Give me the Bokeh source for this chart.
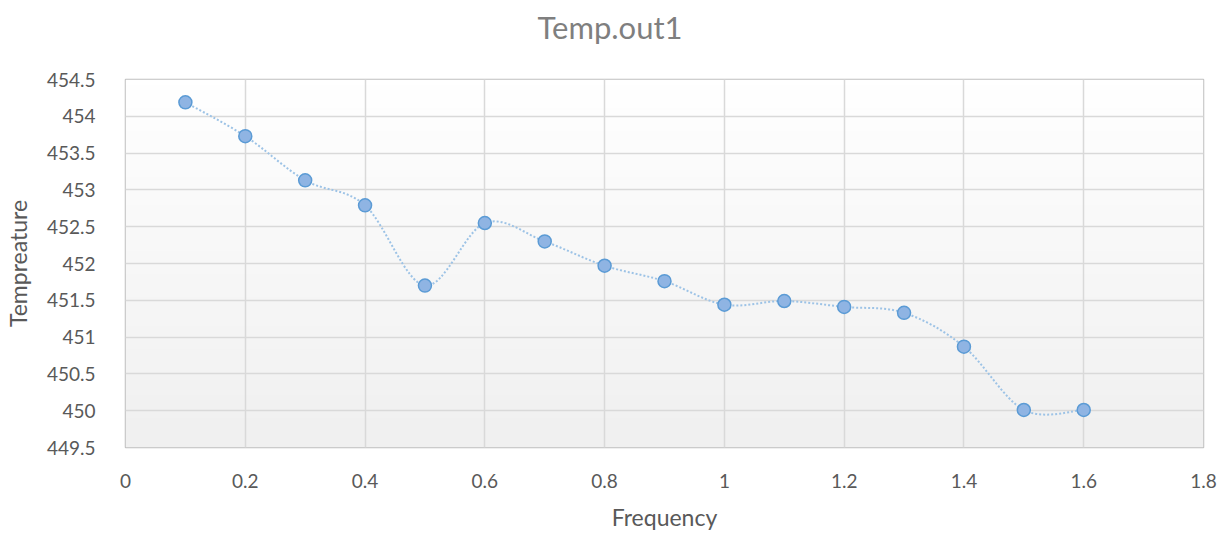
import numpy as np
from bokeh.plotting import figure
from bokeh.models import Range1d, FixedTicker, Title
from bokeh.embed import file_html
from bokeh.resources import INLINE

frequency = [0.1, 0.2, 0.3, 0.4, 0.5, 0.6, 0.7, 0.8, 0.9, 1.0, 1.1, 1.2, 1.3, 1.4, 1.5, 1.6]
temperature = [454.19, 453.73, 453.13, 452.79, 451.70, 452.55, 452.30, 451.97,
               451.76, 451.44, 451.49, 451.41, 451.33, 450.87, 450.01, 450.01]
x_ticks = [0, 0.2, 0.4, 0.6, 0.8, 1.0, 1.2, 1.4, 1.6, 1.8]
y_ticks = [449.5, 450, 450.5, 451, 451.5, 452, 452.5, 453, 453.5, 454, 454.5]

FONT = "Lato"
TXT = "#595959"

p = figure(width=1231, height=533, output_backend="svg", toolbar_location=None,
           x_range=Range1d(0, 1.8), y_range=Range1d(449.5, 454.5),
           min_border_left=125, min_border_right=28, min_border_top=79, min_border_bottom=82)
p.background_fill_color = "white"
p.border_fill_color = "white"
p.outline_line_color = "#BFBFBF"
p.outline_line_width = 1.5

# spacer (closest to frame) then the visible title above it
p.add_layout(Title(text=" ", text_font=FONT, text_font_size="26px", standoff=0), "above")
p.add_layout(Title(text="Temp.out1", text_font=FONT, text_font_size="31px",
                   text_font_style="normal", text_color="#7F7F7F",
                   align="left", offset=412, standoff=0), "above")

# vertical gradient background of plot area
h = 64
grad = np.zeros((h, 1), dtype=np.uint32)
view = grad.view(dtype=np.uint8).reshape((h, 1, 4))
for i in range(h):
    c = int(240 + 15 * i / (h - 1))
    view[i, 0, :] = [c, c, c, 255]
p.image_rgba(image=[grad], x=0, y=449.5, dw=1.8, dh=5.0, level="image")

p.xgrid.ticker = FixedTicker(ticks=x_ticks)
p.ygrid.ticker = FixedTicker(ticks=y_ticks)
for g in (p.xgrid, p.ygrid):
    g.grid_line_color = "#D9D9D9"
    g.grid_line_width = 1.5
    g.level = "underlay"

p.xaxis.ticker = FixedTicker(ticks=x_ticks)
p.yaxis.ticker = FixedTicker(ticks=y_ticks)
for ax in (p.xaxis[0], p.yaxis[0]):
    ax.axis_line_color = None
    ax.major_tick_line_color = None
    ax.minor_tick_line_color = None
    ax.major_label_text_font = FONT
    ax.major_label_text_font_size = "19px"
    ax.major_label_text_color = TXT
    ax.axis_label_text_font = FONT
    ax.axis_label_text_font_size = "23px"
    ax.axis_label_text_color = TXT
    ax.axis_label_text_font_style = "normal"
p.xaxis.axis_label = "Frequency"
p.yaxis.axis_label = "Tempreature"
p.xaxis.major_label_standoff = 20
p.yaxis.major_label_standoff = 24
p.xaxis.axis_label_standoff = 12
p.yaxis.axis_label_standoff = 12
p.xaxis.major_label_overrides = {0: "0", 1.0: "1"}

# smoothed connecting line (Catmull-Rom style Bezier through data points)
xs = np.array(frequency)
ys = np.array(temperature)
n = len(xs)
x0, y0, x1, y1, cx0, cy0, cx1, cy1 = [], [], [], [], [], [], [], []
for i in range(n - 1):
    pm = i - 1 if i > 0 else i
    pp = i + 2 if i + 2 < n else i + 1
    x0.append(xs[i]); y0.append(ys[i]); x1.append(xs[i + 1]); y1.append(ys[i + 1])
    cx0.append(xs[i] + (xs[i + 1] - xs[pm]) / 6); cy0.append(ys[i] + (ys[i + 1] - ys[pm]) / 6)
    cx1.append(xs[i + 1] - (xs[pp] - xs[i]) / 6); cy1.append(ys[i + 1] - (ys[pp] - ys[i]) / 6)
p.bezier(x0=x0, y0=y0, x1=x1, y1=y1, cx0=cx0, cy0=cy0, cx1=cx1, cy1=cy1,
         line_color="#9DC3E6", line_width=2, line_dash="2 2")

p.scatter(frequency, temperature, size=13, fill_color="#8FB4E3", line_color="#5B9BD5", line_width=1.5)

open("out.html", "w").write(file_html(p, INLINE))
